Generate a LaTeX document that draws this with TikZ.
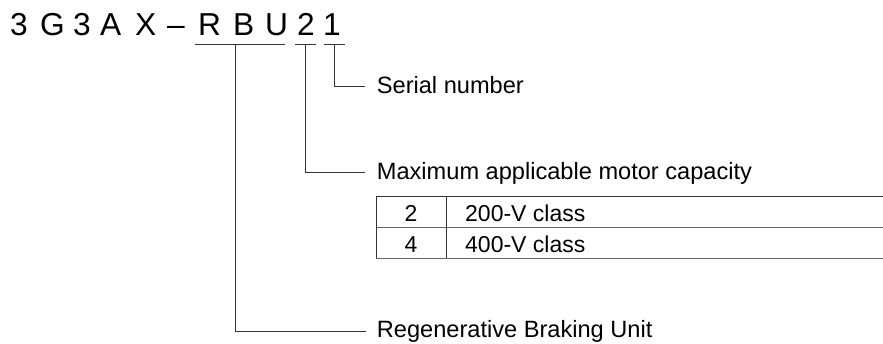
\documentclass[tikz,border=0pt]{standalone}
\usepackage{fontspec}
\setmainfont{Liberation Sans}
\begin{document}
\begin{tikzpicture}[x=1pt,y=-1pt,
  code/.style={anchor=base west,inner sep=0pt,font=\fontsize{31.7}{36}\selectfont},
  lbl/.style={anchor=base west,inner sep=0pt,font=\fontsize{23.6}{26}\selectfont},
  cell/.style={anchor=base,inner sep=0pt,font=\fontsize{23}{26}\selectfont},
  ln/.style={line width=1pt,draw=black!80},
  tl/.style={line width=1pt,draw=black!60}]
\useasboundingbox (0,0) rectangle (883,343);
% title characters
\node[code] (c1) at (10,35) {3};
\node[code] (c2) at (40,35) {G};
\node[code] (c3) at (73,35) {3};
\node[code] (c4) at (100,35) {A};
\node[code] (c5) at (135,35) {X};
\node[code] (c6) at (167,35) {–};
\node[code] (c7) at (198,35) {R};
\node[code] (c8) at (233,35) {B};
\node[code] (c9) at (265,35) {U};
\node[code] (c10) at (297,35) {2};
\node[code] (c11) at (323,35) {1};
% underlines
\coordinate (uR1) at (195,44.3);
\coordinate (uR2) at (285,44.3);
\coordinate (u21) at (295,44.3);
\coordinate (u22) at (315.7,44.3);
\coordinate (u11) at (324,44.3);
\coordinate (u12) at (345,44.3);
\draw[ln] (uR1) -- (uR2);
\draw[ln] (u21) -- (u22);
\draw[ln] (u11) -- (u12);
% labels
\node[lbl] (serial) at (376.7,93) {Serial number};
\node[lbl] (maxcap) at (376.7,179) {Maximum applicable motor capacity};
\node[lbl] (regen) at (376.7,337.5) {Regenerative Braking Unit};
% leader lines
\coordinate (t1) at (334,44.3);
\coordinate (t2) at (305,44.3);
\coordinate (tR) at (235.7,44.3);
\draw[ln] (t1) |- (365,86.7);
\draw[ln] (t2) |- (365,172.3);
\draw[ln] (tR) |- (365.7,331.7);
% table
\coordinate (tA) at (376,196);
\coordinate (tB) at (883,196);
\coordinate (tC) at (376,227.3);
\coordinate (tD) at (883,227.3);
\coordinate (tE) at (376,258.3);
\coordinate (tF) at (883,258.3);
\coordinate (dv1) at (446,196);
\coordinate (dv2) at (446,258.3);
\draw[ln] (tA) -- (tB);
\draw[tl] (tC) -- (tD);
\draw[tl] (tE) -- (tF);
\draw[ln] (tA) -- (tE);
\draw[ln] (dv1) -- (dv2);
\node[cell] (k2) at (411,221.7) {2};
\node[cell,anchor=base west] (v2) at (465,221.7) {200-V class};
\node[cell] (k4) at (411,252.7) {4};
\node[cell,anchor=base west] (v4) at (465,252.7) {400-V class};
\end{tikzpicture}
\end{document}
